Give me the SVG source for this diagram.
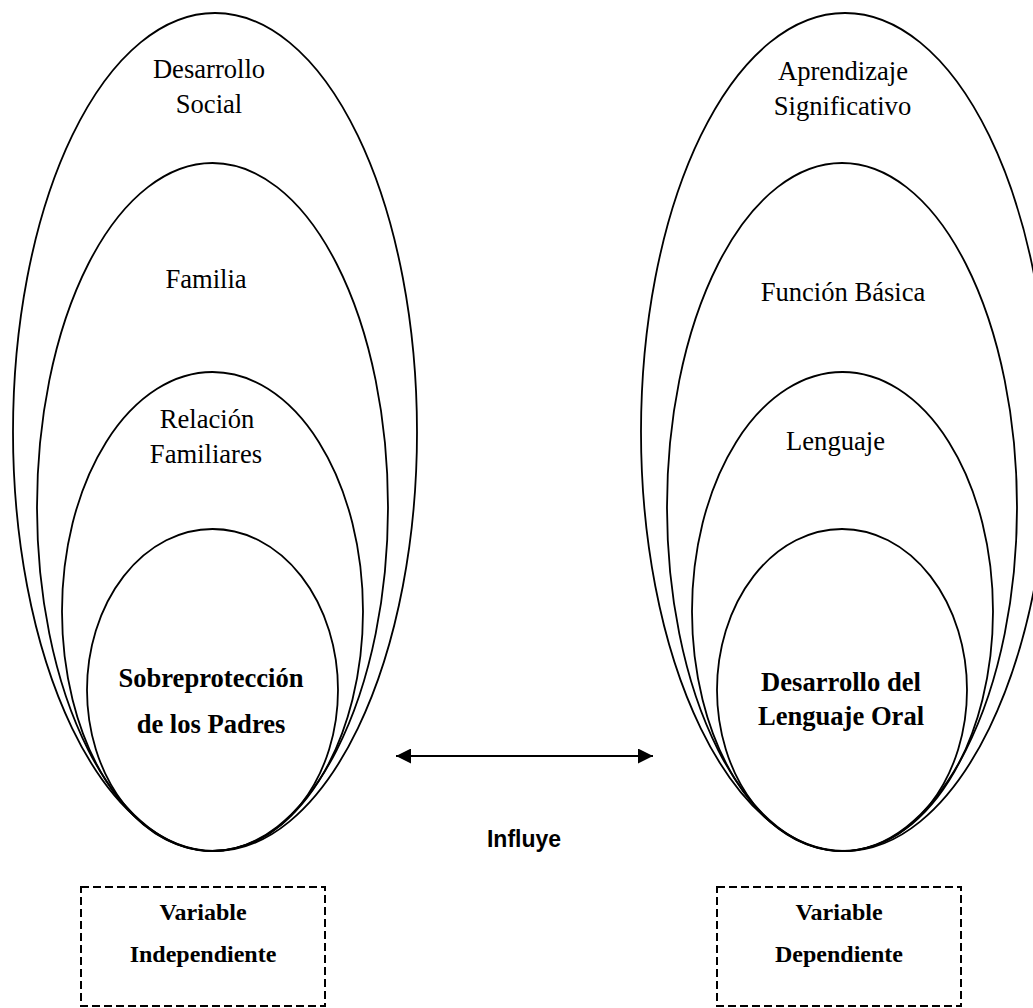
<svg xmlns="http://www.w3.org/2000/svg" width="1033" height="1008" viewBox="0 0 1033 1008">
<defs>
<style>
.ell{fill:none;stroke:#000;stroke-width:1.8}
.t{font-family:"Liberation Serif","Times New Roman",serif;font-size:26.6px;fill:#000;text-anchor:middle}
.b{font-weight:bold}
.bx{fill:none;stroke:#000;stroke-width:2;stroke-dasharray:8 4}
.vt{font-family:"Liberation Serif","Times New Roman",serif;font-size:24px;font-weight:bold;fill:#000;text-anchor:middle}
.lbl{font-family:"Liberation Sans",Arial,sans-serif;font-size:23px;font-weight:bold;fill:#000;text-anchor:middle}
</style>
<marker id="ah" viewBox="0 0 10 10" refX="10" refY="5" markerWidth="7.5" markerHeight="7.5" markerUnits="strokeWidth" orient="auto-start-reverse">
<path d="M0,0 L10,5 L0,10 z" fill="#000"/>
</marker>
</defs>
<rect width="1033" height="1008" fill="#fff"/>
<g id="desarrollo-social">
<ellipse class="ell" cx="215" cy="432" rx="202" ry="419"/>
<text class="t" x="209" y="78">Desarrollo</text>
<text class="t" x="209" y="113">Social</text>
</g>
<g id="familia">
<ellipse class="ell" cx="212.5" cy="507" rx="175.5" ry="344"/>
<text class="t" x="206" y="288">Familia</text>
</g>
<g id="relacion-familiares">
<ellipse class="ell" cx="212.5" cy="611.5" rx="150.5" ry="239.5"/>
<text class="t" x="207" y="428">Relación</text>
<text class="t" x="206" y="463">Familiares</text>
</g>
<g id="sobreproteccion">
<ellipse class="ell" cx="212.5" cy="690" rx="125.5" ry="161"/>
<text class="t b" x="211" y="687">Sobreprotección</text>
<text class="t b" x="211" y="733">de los Padres</text>
</g>
<g id="aprendizaje-significativo">
<ellipse class="ell" cx="845" cy="432" rx="204" ry="419"/>
<text class="t" x="843" y="80">Aprendizaje</text>
<text class="t" x="842.5" y="115">Significativo</text>
</g>
<g id="funcion-basica">
<ellipse class="ell" cx="842" cy="507" rx="175" ry="344"/>
<text class="t" x="843" y="301">Función Básica</text>
</g>
<g id="lenguaje">
<ellipse class="ell" cx="842.5" cy="611.5" rx="150.5" ry="239.5"/>
<text class="t" x="835.5" y="450">Lenguaje</text>
</g>
<g id="desarrollo-lenguaje-oral">
<ellipse class="ell" cx="842" cy="690" rx="125" ry="161"/>
<text class="t b" x="841" y="691">Desarrollo del</text>
<text class="t b" x="841" y="725">Lenguaje Oral</text>
</g>
<g id="variable-independiente">
<rect class="bx" x="81" y="887" width="244" height="119"/>
<text class="vt" x="203" y="920">Variable</text>
<text class="vt" x="203" y="962">Independiente</text>
</g>
<g id="variable-dependiente">
<rect class="bx" x="717" y="887" width="244" height="119"/>
<text class="vt" x="839" y="920">Variable</text>
<text class="vt" x="839" y="962">Dependiente</text>
</g>
<g id="connectors">
<line x1="396" y1="756" x2="653" y2="756" stroke="#000" stroke-width="2" marker-start="url(#ah)" marker-end="url(#ah)"/>
<text class="lbl" x="524" y="847">Influye</text>
</g>
</svg>
